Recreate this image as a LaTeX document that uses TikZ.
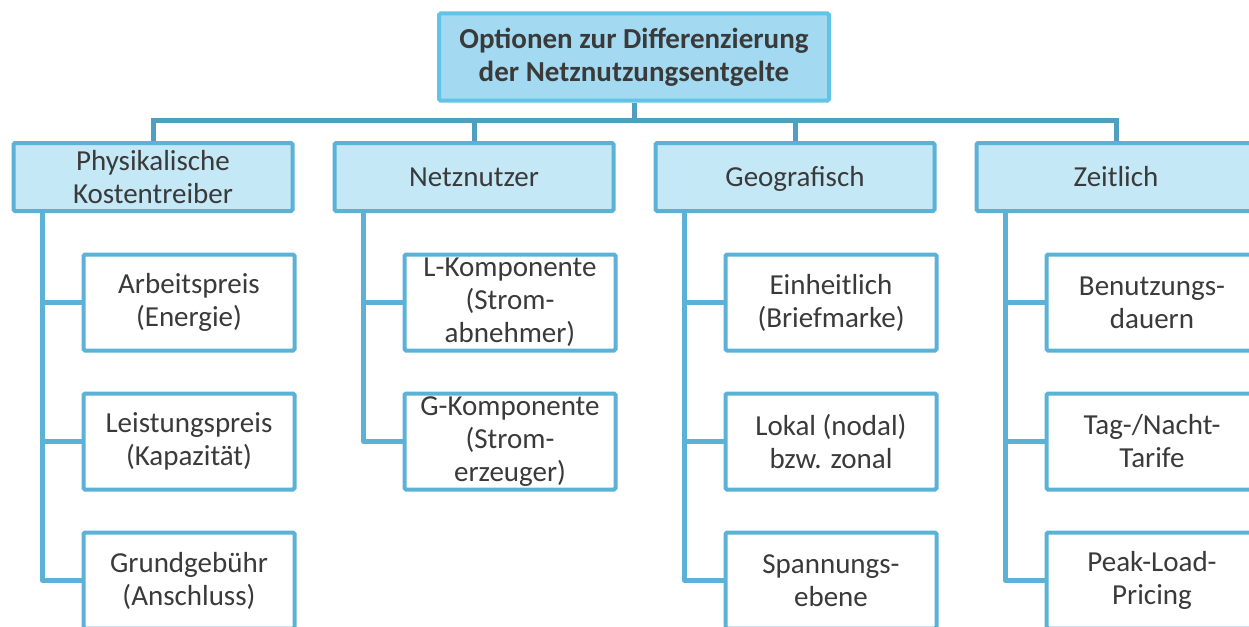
\documentclass[tikz,border=0pt]{standalone}
\usepackage{fontspec}
\setmainfont{Carlito}
\usetikzlibrary{backgrounds}
\definecolor{topfill}{HTML}{A4DAF1}
\definecolor{topline}{HTML}{62C3E6}
\definecolor{lonefill}{HTML}{C4E8F6}
\definecolor{boxline}{HTML}{5BB2D6}
\definecolor{barline}{HTML}{4E9FC0}
\definecolor{txt}{HTML}{3A3A3A}
\tikzset{
  base/.style={rectangle, draw, line width=4pt, rounded corners=1.5pt, inner sep=0pt, align=center,
    text=txt, font=\fontsize{29}{33}\selectfont},
  topbox/.style={base, draw=topline, fill=topfill, minimum width=390pt, minimum height=87pt, font=\fontsize{29}{33}\selectfont\bfseries},
  catbox/.style={base, draw=boxline, fill=lonefill, minimum width=279pt, minimum height=68pt},
  oneline/.style={text height=21pt, text depth=2pt},
  leafbox/.style={base, draw=boxline, fill=white, minimum width=211pt, minimum height=96pt},
  bar/.style={draw=barline, line width=5pt},
  trunk/.style={draw=boxline, line width=5pt, line join=round},
}
\begin{document}
\begin{tikzpicture}[x=1pt,y=-1pt]
\useasboundingbox (0,0) rectangle (1249,626);
\clip (0,0) rectangle (1249,626);
% nodes
\node[topbox] (top) at (634,57) {Optionen zur Differenzierung\\der Netznutzungsentgelte};
\node[catbox] (p1) at (153,177) {Physikalische\\Kostentreiber};
\node[catbox, oneline] (p2) at (474,177) {Netznutzer};
\node[catbox, oneline] (p3) at (795,177) {Geografisch};
\node[catbox, oneline] (p4) at (1116,177) {Zeitlich};
\coordinate (bar) at (634,120);
% leaves
\node[leafbox] (c11) at (189,302.5) {Arbeitspreis\\(Energie)};
\node[leafbox] (c12) at (189,441.5) {Leistungspreis\\(Kapazität)};
\node[leafbox] (c13) at (189,580.5) {Grundgebühr\\(Anschluss)};
\node[leafbox] (c21) at (510,302.5) {L-Komponente\\(Strom-\\abnehmer)};
\node[leafbox] (c22) at (510,441.5) {G-Komponente\\(Strom-\\erzeuger)};
\node[leafbox] (c31) at (831,302.5) {Einheitlich\\(Briefmarke)};
\node[leafbox] (c32) at (831,441.5) {Lokal (nodal)\\bzw. zonal};
\node[leafbox] (c33) at (831,580.5) {Spannungs-\\ebene};
\node[leafbox] (c41) at (1152,302.5) {Benutzungs-\\dauern};
\node[leafbox] (c42) at (1152,441.5) {Tag-/Nacht-\\Tarife};
\node[leafbox] (c43) at (1152,580.5) {Peak-Load-\\Pricing};
% trunk coordinates
\coordinate (t1) at ([xshift=31pt]p1.south west);
\coordinate (t2) at ([xshift=31pt]p2.south west);
\coordinate (t3) at ([xshift=31pt]p3.south west);
\coordinate (t4) at ([xshift=31pt]p4.south west);
\begin{scope}[on background layer]
  \draw[bar] (top.south) -- (bar);
  \draw[bar] (p1.north) |- (bar) -| (p4.north);
  \draw[bar] (p2.north) -- (p2.north |- bar);
  \draw[bar] (p3.north) -- (p3.north |- bar);
  % group 1
  \draw[trunk] (t1) |- (c13.west);
  \draw[trunk] (c11.west) -- (c11.west -| t1);
  \draw[trunk] (c12.west) -- (c12.west -| t1);
  % group 2
  \draw[trunk] (t2) |- (c22.west);
  \draw[trunk] (c21.west) -- (c21.west -| t2);
  % group 3
  \draw[trunk] (t3) |- (c33.west);
  \draw[trunk] (c31.west) -- (c31.west -| t3);
  \draw[trunk] (c32.west) -- (c32.west -| t3);
  % group 4
  \draw[trunk] (t4) |- (c43.west);
  \draw[trunk] (c41.west) -- (c41.west -| t4);
  \draw[trunk] (c42.west) -- (c42.west -| t4);
\end{scope}
\end{tikzpicture}
\end{document}
